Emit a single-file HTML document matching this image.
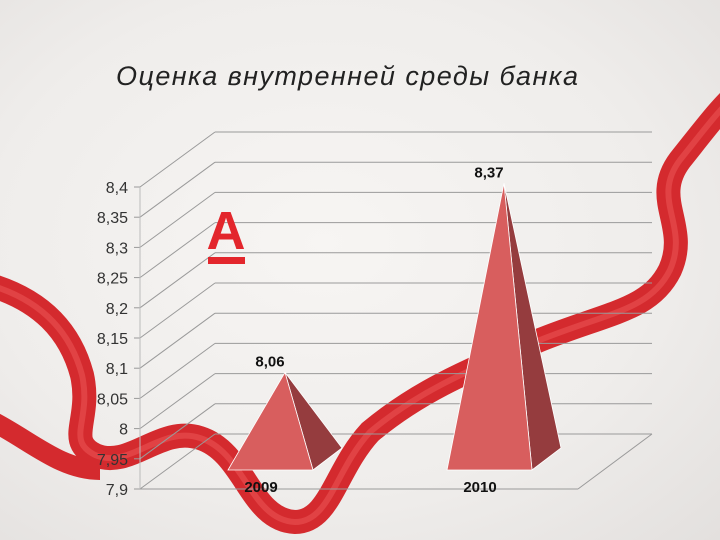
<!DOCTYPE html>
<html><head><meta charset="utf-8"><style>
html,body{margin:0;padding:0}
body{width:720px;height:540px;overflow:hidden;background:radial-gradient(ellipse at 45% 45%,#f7f5f3 0%,#efedeb 60%,#e3e0de 100%);font-family:"Liberation Sans","DejaVu Sans",sans-serif}
svg{position:absolute;left:0;top:0}
</style></head><body>
<svg width="720" height="540">
<g id="ribbon">
 <path d="M-10,285 C40,300 70,330 82,375 C92,420 65,440 95,455 C130,470 160,425 200,438 C245,452 250,520 295,522 C330,522 335,470 370,432 C420,390 470,370 540,340 C610,312 650,310 670,270 C690,225 650,200 680,160 C700,135 715,115 730,100" fill="none" stroke="#d42a2e" stroke-width="24" stroke-linecap="butt"/>
 <path d="M-10,285 C40,300 70,330 82,375 C92,420 65,440 95,455 C130,470 160,425 200,438 C245,452 250,520 295,522 C330,522 335,470 370,432 C420,390 470,370 540,340 C610,312 650,310 670,270 C690,225 650,200 680,160 C700,135 715,115 730,100" fill="none" stroke="#ee5a5a" stroke-width="6" opacity="0.5"/>
 <path d="M-10,420 C30,440 60,470 100,470" fill="none" stroke="#d42a2e" stroke-width="20"/>
</g>
<g id="grid"></g>
<g id="axis"></g>
<g>
 <text x="226" y="249" text-anchor="middle" font-size="54" font-weight="bold" fill="#e3262c" font-family="Liberation Sans, sans-serif">A</text>
 <rect x="208" y="257" width="37" height="7" fill="#e3262c"/>
</g>
<g id="marks"></g>
<text x="347" y="85" text-anchor="middle" font-size="27" font-style="italic" fill="#222" font-family="Liberation Sans, sans-serif" textLength="462">Оценка внутренней среды банка</text>
</svg>
<script>
const categories = ["2009", "2010"];
const values = [8.06, 8.37];
const valueLabels = ["8,06", "8,37"];
const tickValues = [7.9, 7.95, 8, 8.05, 8.1, 8.15, 8.2, 8.25, 8.3, 8.35, 8.4];
const tickLabels = ["7,9", "7,95", "8", "8,05", "8,1", "8,15", "8,2", "8,25", "8,3", "8,35", "8,4"];

const NS = "http://www.w3.org/2000/svg";
function mk(tag, attrs, parent){const e=document.createElementNS(NS,tag);for(const k in attrs)e.setAttribute(k,attrs[k]);parent.appendChild(e);return e;}
const yMin=7.9, yMax=8.4;
function yFront(v){return 489-(v-yMin)/(yMax-yMin)*302;}
function yMid(v){return 470-(v-yMin)*610;}
function xCat(i){return [285,504][i];}
const grid=document.getElementById('grid'), axis=document.getElementById('axis'), marks=document.getElementById('marks');
for(let i=0;i<tickValues.length;i++){
  const yf=yFront(tickValues[i]);
  const d=mk('line',{x1:140,y1:yf,x2:215,y2:yf-55,stroke:'#9a9a9a','stroke-width':1},grid);
  
  
  const h=mk('line',{x1:215,y1:yf-55,x2:652,y2:yf-55,stroke:'#9a9a9a','stroke-width':1},grid);
  
  
  const tk=mk('line',{x1:134,y1:yf,x2:140,y2:yf,stroke:'#999'},axis);
  
  
  const t=mk('text',{x:128,y:yf+6,'text-anchor':'end','font-size':16,fill:'#333'},axis);
  t.textContent=tickLabels[i];
  
  
}
const f1=mk('line',{x1:140,y1:489,x2:578,y2:489,stroke:'#9a9a9a'},grid);


const f2=mk('line',{x1:578,y1:489,x2:652,y2:434,stroke:'#9a9a9a'},grid);


const ax=mk('line',{x1:140,y1:187,x2:140,y2:489,stroke:'#bbb'},axis);


for(let i=0;i<categories.length;i++){
  const cx=xCat(i), ay=yMid(values[i]);
  const g=mk('g',{},marks);
  
  
  const side=mk('polygon',{points:`${cx},${ay} ${cx+28},470 ${cx+57},448`,fill:'#953c3e',stroke:'#fff','stroke-width':0.8},g);
  
  
  const front=mk('polygon',{points:`${cx},${ay} ${cx-57},470 ${cx+28},470`,fill:'#d85e5e',stroke:'#fff','stroke-width':0.8},g);
  
  
  const vl=mk('text',{x:cx-15,y:ay-6,'text-anchor':'middle','font-size':15,'font-weight':'bold',fill:'#111'},g);
  vl.textContent=valueLabels[i];
  
  
  const cl=mk('text',{x:cx-24,y:492,'text-anchor':'middle','font-size':15,'font-weight':'bold',fill:'#111'},g);
  cl.textContent=categories[i];
  
  
}
</script>
</body></html>
